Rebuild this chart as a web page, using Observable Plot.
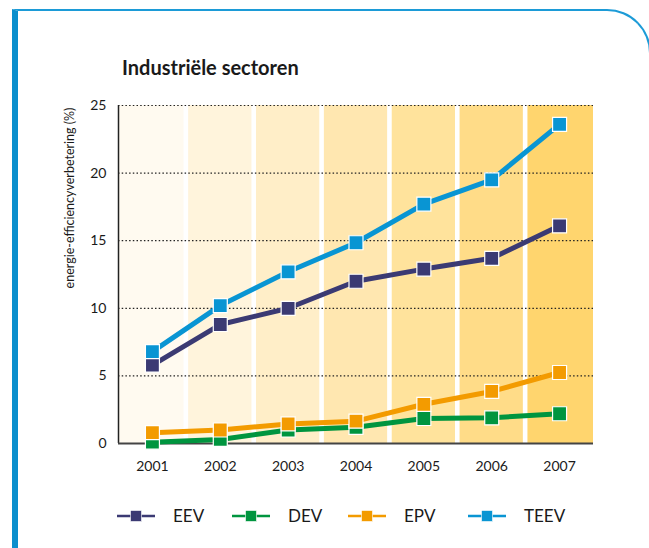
<!DOCTYPE html>
<html>
<head>
<meta charset="utf-8">
<script src="https://cdn.jsdelivr.net/npm/d3@7"></script>
<script src="https://cdn.jsdelivr.net/npm/@observablehq/plot@0.6"></script>
<style>
  html, body { margin: 0; padding: 0; background: #fff; }
  #wrap { position: relative; width: 649px; height: 548px; overflow: hidden; font-family: Lato, "Open Sans", sans-serif; }
  #frame { position: absolute; left: 12px; top: 9px; width: 639px; height: 700px;
           border-left: 6px solid #0b8fcd; border-top: 2px solid #1c9bd7; border-right: 2px solid #1c9bd7;
           border-top-right-radius: 44px; box-sizing: border-box; }
  #title { position: absolute; left: 122px; top: 55px; font-size: 20px; line-height: 24px; font-weight: bold; color: #1a1a1a; white-space: nowrap; }
  #chart { position: absolute; left: 0; top: 0; }
</style>
</head>
<body>
<div id="wrap">
  <div id="frame"></div>
  <div id="chart"></div>
  <div id="title">Industriële sectoren</div>
</div>
<script>
const years = [2001, 2002, 2003, 2004, 2005, 2006, 2007];
const eev  = [5.8, 8.8, 10.0, 12.0, 12.9, 13.7, 16.1];
const dev  = [0.1, 0.3, 1.0, 1.2, 1.85, 1.9, 2.2];
const epv  = [0.8, 1.0, 1.45, 1.65, 2.9, 3.85, 5.25];
const teev = [6.8, 10.2, 12.7, 14.85, 17.7, 19.5, 23.6];
const yTicks = [0, 5, 10, 15, 20, 25];
const bandColors = ["#fffaf0", "#fff4dc", "#ffeec8", "#ffe7b0", "#ffe39c", "#ffdc88", "#ffd56e"];
const seriesNames = ["EEV", "DEV", "EPV", "TEEV"];
const seriesColors = ["#3b3a73", "#00953f", "#f39b00", "#0995d3"];
const yLabel = "energie-efficiencyverbetering (%)";

const seriesValues = {EEV: eev, DEV: dev, EPV: epv, TEEV: teev};
const bands = years.map((year, i) => ({year, color: bandColors[i], i}));
const drawOrder = ["DEV", "EPV", "EEV", "TEEV"];

const seriesMarks = drawOrder.flatMap(name => {
  const color = seriesColors[seriesNames.indexOf(name)];
  const rows = years.map((year, i) => ({year, value: seriesValues[name][i]}));
  return [
    Plot.line(rows, {x: "year", y: "value", stroke: color, strokeWidth: 5, strokeLinejoin: "miter"}),
    Plot.dot(rows, {x: "year", y: "value", symbol: "square", r: 7.9, fill: color, stroke: "white", strokeWidth: 1.2})
  ];
});

const last = years.length - 1;
const svg = Plot.plot({
  width: 649,
  height: 548,
  marginLeft: 118,
  marginRight: 56,
  marginTop: 105,
  marginBottom: 105,
  style: {fontFamily: "Lato, 'Open Sans', sans-serif", fontSize: "14px", background: "transparent", color: "#1a1a1a"},
  x: {domain: [2000.5, 2007.5]},
  y: {domain: [0, 25]},
  marks: [
    Plot.rect(bands.filter(d => d.i === 0), {x1: d => d.year - 0.5, x2: d => d.year + 0.5, y1: 0, y2: 25, fill: d => d.color, insetRight: 2.3}),
    Plot.rect(bands.filter(d => d.i > 0 && d.i < last), {x1: d => d.year - 0.5, x2: d => d.year + 0.5, y1: 0, y2: 25, fill: d => d.color, insetLeft: 2.3, insetRight: 2.3}),
    Plot.rect(bands.filter(d => d.i === last), {x1: d => d.year - 0.5, x2: d => d.year + 0.5, y1: 0, y2: 25, fill: d => d.color, insetLeft: 2.3}),
    Plot.ruleY(yTicks.filter(t => t > 0), {stroke: "#222", strokeWidth: 1.2, strokeDasharray: "1.5,2.2"}),
    Plot.ruleX([2000.5], {y1: 0, y2: 25, stroke: "#222", strokeWidth: 1.5}),
    Plot.ruleY([0], {stroke: "#444", strokeWidth: 2}),
    Plot.axisX({ticks: years, tickFormat: d => String(d), tickSize: 0, tickPadding: 18, label: null, fontSize: 14}),
    Plot.axisY({ticks: yTicks, tickSize: 0, tickPadding: 12, label: null, fontSize: 14}),
    ...seriesMarks
  ]
});
document.getElementById("chart").appendChild(svg);

// axis title
const sel = d3.select(svg);
sel.append("text")
  .attr("transform", "translate(74,198) rotate(-90)")
  .attr("text-anchor", "middle")
  .attr("font-size", 12.5)
  .attr("fill", "#1a1a1a")
  .text(yLabel);

// legend
const legendX = [117, 232, 348, 468];
const lg = sel.append("g");
seriesNames.forEach((name, i) => {
  const x0 = legendX[i];
  lg.append("line").attr("x1", x0).attr("x2", x0 + 38).attr("y1", 516).attr("y2", 516)
    .attr("stroke", seriesColors[i]).attr("stroke-width", 2.5);
  lg.append("rect").attr("x", x0 + 13.5).attr("y", 510.5).attr("width", 11).attr("height", 11)
    .attr("fill", seriesColors[i]).attr("stroke", "#fff").attr("stroke-width", 0.6);
  lg.append("text").attr("x", x0 + 56).attr("y", 522).attr("font-size", 17)
    .attr("text-anchor", "start").attr("fill", "#1a1a1a").text(name);
});
</script>
</body>
</html>
